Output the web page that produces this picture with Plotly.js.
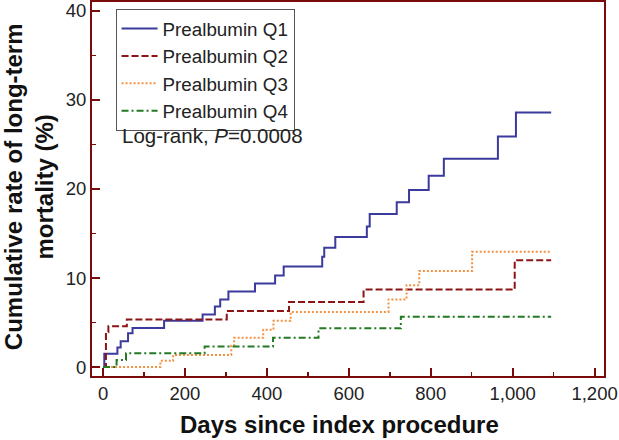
<!DOCTYPE html>
<html>
<head>
<meta charset="utf-8">
<script src="https://cdn.plot.ly/plotly-3.0.1.min.js"></script>
<style>html,body{margin:0;padding:0;background:#fff;}#chart{width:619px;height:440px;}</style>
</head>
<body>
<div id="chart"></div>
<script>
// Step times (days) and cumulative mortality (%)
const q1Days = [0, 3, 35, 43, 61, 72, 149, 243, 273, 286, 306, 371, 420, 441, 535, 540, 567, 644, 651, 717, 747, 795, 832, 964, 1008, 1094];
const q1Vals = [0, 1.5, 2.2, 2.9, 3.8, 4.4, 5.2, 5.9, 6.8, 7.6, 8.5, 9.4, 10.3, 11.3, 12.4, 13.4, 14.6, 15.8, 17.2, 18.5, 19.9, 21.5, 23.4, 25.9, 28.6, 28.6];

const q2Days = [0, 7, 13, 58, 302, 454, 636, 1005, 1094];
const q2Vals = [0, 3.9, 4.6, 5.35, 6.3, 7.3, 8.7, 12.0, 12.0];

const q3Days = [0, 140, 171, 313, 320, 391, 416, 458, 697, 741, 772, 901, 1093];
const q3Vals = [0, 0.7, 1.35, 2.4, 3.3, 4.2, 5.2, 6.2, 7.6, 9.2, 10.8, 12.95, 12.95];

const q4Days = [0, 33, 56, 248, 415, 526, 727, 1094];
const q4Vals = [0, 0.8, 1.55, 2.3, 3.3, 4.35, 5.65, 5.65];

const seriesNames = ["Prealbumin Q1", "Prealbumin Q2", "Prealbumin Q3", "Prealbumin Q4"];
const xTickVals = [0, 200, 400, 600, 800, 1000, 1200];
const yTickVals = [0, 10, 20, 30, 40];
const xTitle = "Days since index procedure";
const yTitle = "Cumulative rate of long-term<br>mortality (%)";
const statText = "Log-rank, <i>P</i>=0.0008";

const frameColor = "#7a0c0c";
const fontFam = "Liberation Sans, Arial, sans-serif";

function stepTrace(x, y, name, color, dash) {
  return {
    x: x, y: y, name: name, type: "scatter", mode: "lines",
    line: {shape: "hv", color: color, width: 2, dash: dash},
    hoverinfo: "skip"
  };
}

const data = [
  stepTrace(q1Days, q1Vals, seriesNames[0], "#3b3b9d", "solid"),
  stepTrace(q2Days, q2Vals, seriesNames[1], "#8b1414", "7px,3px"),
  stepTrace(q3Days, q3Vals, seriesNames[2], "#f39142", "2px,2px"),
  stepTrace(q4Days, q4Vals, seriesNames[3], "#237a23", "7px,3px,2px,3px")
];

const layout = {
  width: 619, height: 440,
  margin: {l: 92, r: 15, t: 2, b: 64, pad: 0},
  paper_bgcolor: "#fff", plot_bgcolor: "#fff",
  font: {family: fontFam, size: 18.5, color: "#222"},
  showlegend: true,
  legend: {
    x: 0.046, y: 0.982, xanchor: "left", yanchor: "top",
    bordercolor: "#555", borderwidth: 1, bgcolor: "#fff",
    font: {family: fontFam, size: 18.8, color: "#222"},
    tracegroupgap: 0, itemwidth: 36
  },
  xaxis: {
    range: [-27, 1223],
    tickvals: xTickVals, tickformat: ",d",
    ticks: "inside", ticklen: 8, tickwidth: 2, tickcolor: frameColor,
    minor: {dtick: 100, tick0: 0, ticks: "inside", ticklen: 4, tickwidth: 1.5, tickcolor: frameColor},
    showline: true, linecolor: frameColor, linewidth: 2, mirror: true,
    showgrid: false, zeroline: false,
    tickfont: {family: fontFam, size: 18.5, color: "#222"}
  },
  yaxis: {
    range: [-1, 41],
    tickvals: yTickVals,
    ticks: "inside", ticklen: 8, tickwidth: 2, tickcolor: frameColor,
    minor: {dtick: 5, tick0: 0, ticks: "inside", ticklen: 4, tickwidth: 1.5, tickcolor: frameColor},
    showline: true, linecolor: frameColor, linewidth: 2, mirror: true,
    showgrid: false, zeroline: false,
    tickfont: {family: fontFam, size: 18.5, color: "#222"}
  },
  annotations: [
    {
      xref: "paper", yref: "paper", x: 0.0547, y: 0.644,
      xanchor: "left", yanchor: "middle", showarrow: false,
      text: statText,
      font: {family: fontFam, size: 20.5, color: "#222"}
    },
    {
      xref: "paper", yref: "paper", x: 0.484, y: -0.131,
      xanchor: "center", yanchor: "middle", showarrow: false,
      text: "<b>" + xTitle + "</b>",
      font: {family: fontFam, size: 24, color: "#111"}
    },
    {
      xref: "paper", yref: "paper", x: -0.123, y: 0.505,
      xanchor: "center", yanchor: "middle", showarrow: false, textangle: -90,
      text: "<b>" + yTitle + "</b>",
      font: {family: fontFam, size: 24, color: "#111"}
    }
  ]
};

Plotly.newPlot("chart", data, layout, {displayModeBar: false, staticPlot: true});
</script>
</body>
</html>
